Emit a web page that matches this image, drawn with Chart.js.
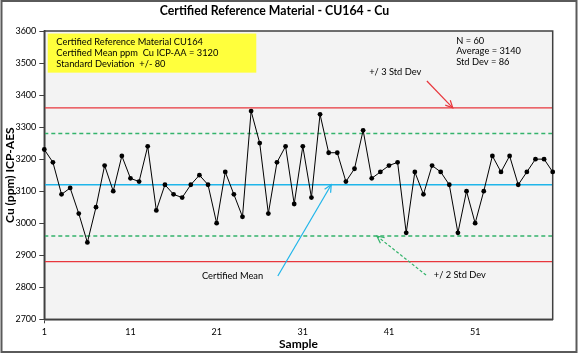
<!DOCTYPE html>
<html><head><meta charset="utf-8">
<script src="https://cdn.jsdelivr.net/npm/chart.js@4.4.1/dist/chart.umd.min.js"></script>
<style>html,body{margin:0;padding:0;background:#fff}canvas{display:block}</style>
</head><body>
<canvas id="c" width="578" height="354"></canvas>
<script>
// ---- data ----
const samples = ['1','2','3','4','5','6','7','8','9','10','11','12','13','14','15','16','17','18','19','20',
  '21','22','23','24','25','26','27','28','29','30','31','32','33','34','35','36','37','38','39','40',
  '41','42','43','44','45','46','47','48','49','50','51','52','53','54','55','56','57','58','59','60'];
const cuValues = [3230,3190,3090,3110,3030,2940,3050,3180,3100,3210,
  3140,3130,3240,3040,3120,3090,3080,3120,3150,3120,
  3000,3160,3090,3020,3350,3250,3030,3190,3240,3060,
  3240,3080,3340,3220,3220,3130,3170,3290,3140,3160,
  3180,3190,2970,3160,3090,3180,3160,3120,2970,3100,
  3000,3100,3210,3160,3210,3120,3160,3200,3200,3160];
const xTickEvery = 10;
const yMin = 2700, yMax = 3600, yStep = 100;
const certifiedMean = 3120;
const certifiedSD = 80;
const titleText = 'Certified Reference Material - CU164 - Cu';
const infoLines = ['Certified Reference Material CU164', 'Certified Mean ppm  Cu ICP-AA = 3120', 'Standard Deviation  +/- 80'];
const statLines = ['N = 60', 'Average = 3140', 'Std Dev = 86'];

const FONT = "'Lato', 'Liberation Sans', sans-serif";
const DARK = '#404040';
const RED = '#e8363c';
const GREEN = '#33b36b';
const BLUE = '#1fb5ea';

function arrow(ctx, x1, y1, x2, y2, color, dashed) {
  ctx.save();
  ctx.strokeStyle = color; ctx.lineWidth = 1.2;
  if (dashed) ctx.setLineDash([3, 2]);
  ctx.beginPath(); ctx.moveTo(x1, y1); ctx.lineTo(x2, y2); ctx.stroke();
  ctx.setLineDash([]);
  const a = Math.atan2(y2 - y1, x2 - x1), L = 8, w = 0.45;
  ctx.beginPath();
  ctx.moveTo(x2 - L * Math.cos(a - w), y2 - L * Math.sin(a - w));
  ctx.lineTo(x2, y2);
  ctx.lineTo(x2 - L * Math.cos(a + w), y2 - L * Math.sin(a + w));
  ctx.stroke();
  ctx.restore();
}

const decor = {
  id: 'decor',
  beforeDraw(chart) {
    const {ctx, chartArea: a} = chart;
    ctx.save();
    ctx.fillStyle = '#ffffff'; ctx.fillRect(0, 0, chart.width, chart.height);
    ctx.fillStyle = '#f3f3f3'; ctx.fillRect(a.left, a.top, a.right - a.left, a.bottom - a.top);
    ctx.restore();
  },
  beforeDatasetsDraw(chart) {
    const {ctx, chartArea: a, scales: {x, y}} = chart;
    const hline = (v, color, dash) => {
      const py = y.getPixelForValue(v);
      ctx.save(); ctx.strokeStyle = color; ctx.lineWidth = 1.3;
      if (dash) ctx.setLineDash(dash);
      ctx.beginPath(); ctx.moveTo(a.left, py); ctx.lineTo(a.right, py); ctx.stroke(); ctx.restore();
    };
    hline(certifiedMean + 3 * certifiedSD, RED);
    hline(certifiedMean - 3 * certifiedSD, RED);
    hline(certifiedMean + 2 * certifiedSD, GREEN, [4, 3]);
    hline(certifiedMean - 2 * certifiedSD, GREEN, [4, 3]);
    hline(certifiedMean, BLUE);
    ctx.save(); ctx.strokeStyle = DARK; ctx.lineWidth = 1.5;
    ctx.strokeRect(a.left, a.top, a.right - a.left, a.bottom - a.top); ctx.restore();

    // annotations (data coordinates: sample index, value)
    const px = s => x.getPixelForValue(s - 1), py = v => y.getPixelForValue(v);
    const bx1 = px(1.4), bx2 = px(25.6), by1 = py(3592), by2 = py(3470);
    ctx.save();
    ctx.fillStyle = '#ffff3c'; ctx.fillRect(bx1, by1, bx2 - bx1, by2 - by1);
    ctx.fillStyle = '#000'; ctx.font = '9.3px ' + FONT; ctx.textBaseline = 'middle';
    infoLines.forEach((t, i) => ctx.fillText(t, px(2.4), py(3565 - i * 33.5)));
    statLines.forEach((t, i) => ctx.fillText(t, px(48.8), py(3570 - i * 33.5)));
    ctx.fillText('+/ 3 Std Dev', px(38.7), py(3472));
    ctx.fillText('Certified Mean', px(19.3), py(2836));
    ctx.fillText('+/ 2 Std Dev', px(46.2), py(2838));
    ctx.restore();
    arrow(ctx, px(45.4), py(3444), px(48.4), py(certifiedMean + 3 * certifiedSD), RED);
    arrow(ctx, px(28.1), py(2835), px(34.3), py(certifiedMean), BLUE);
    arrow(ctx, px(45.3), py(2838), px(39.6), py(certifiedMean - 2 * certifiedSD), GREEN, true);
  },
  afterDraw(chart) {
    const {ctx} = chart;
    ctx.save();
    ctx.fillStyle = '#000'; ctx.font = 'bold 12.3px ' + FONT;
    ctx.textAlign = 'center'; ctx.textBaseline = 'middle';
    ctx.fillText(titleText, 274.5, 11);
    ctx.strokeStyle = '#5a5a5a'; ctx.lineWidth = 2;
    ctx.strokeRect(1.5, 1, 575, 351);
    ctx.restore();
  }
};

new Chart(document.getElementById('c'), {
  type: 'line',
  data: {
    labels: samples,
    datasets: [{
      data: cuValues,
      borderColor: '#000', borderWidth: 1,
      backgroundColor: '#000', pointBackgroundColor: '#000', pointBorderColor: '#000',
      pointRadius: 2.4, pointBorderWidth: 0, tension: 0, clip: false
    }]
  },
  options: {
    responsive: false, animation: false, devicePixelRatio: 1,
    layout: {padding: {top: 31, right: 25.3, bottom: 0, left: 0}},
    plugins: {legend: {display: false}, title: {display: false}, tooltip: {enabled: false}},
    scales: {
      x: {
        type: 'category', offset: false,
        grid: {display: true, drawOnChartArea: false, drawTicks: true, tickLength: 4,
          color: c => (c.index % xTickEvery === 0 ? DARK : 'rgba(0,0,0,0)'), lineWidth: 1},
        border: {display: true, color: DARK, width: 1.5},
        ticks: {autoSkip: false, maxRotation: 0, minRotation: 0, padding: 3, color: '#000',
          font: {family: FONT, size: 9},
          callback: (v, i) => (i % xTickEvery === 0 ? samples[i] : null)},
        title: {display: true, text: 'Sample', color: '#000',
          font: {family: FONT, size: 12, weight: 'bold'}, padding: {top: 0, bottom: 2.4}},
        afterFit: s => { s.height = 34.7; }
      },
      y: {
        min: yMin, max: yMax,
        grid: {display: true, drawOnChartArea: false, drawTicks: true, tickLength: 5, color: DARK},
        border: {display: true, color: DARK, width: 1.5},
        ticks: {stepSize: yStep, padding: 3, color: '#000', font: {family: FONT, size: 9},
          callback: v => String(v)},
        title: {display: true, text: 'Cu (ppm) ICP-AES', color: '#000',
          font: {family: FONT, size: 12, weight: 'bold'}, padding: {top: 3.4, bottom: 0}},
        afterFit: s => { s.width = 44.3; }
      }
    }
  },
  plugins: [decor]
});
</script>
</body></html>
